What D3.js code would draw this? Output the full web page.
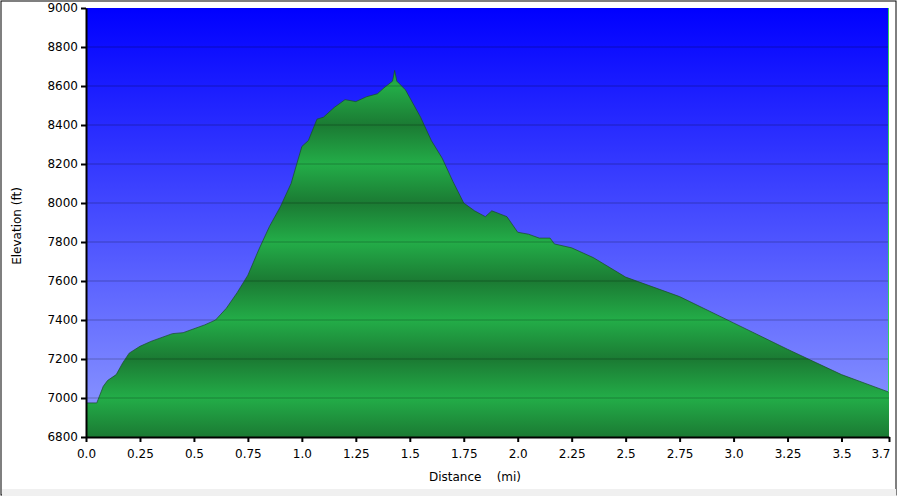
<!DOCTYPE html>
<html><head><meta charset="utf-8">
<script src="https://cdn.jsdelivr.net/npm/d3@7"></script>
<style>body{margin:0;background:#fff;}svg{display:block;font-family:"DejaVu Sans",Verdana,sans-serif;}</style>
</head><body><svg id="c" width="897" height="496"></svg>
<script>
const distance = [0,0.05,0.08,0.1,0.14,0.17,0.2,0.25,0.3,0.4,0.45,0.5,0.55,0.6,0.65,0.7,0.75,0.8,0.85,0.9,0.95,1.0,1.03,1.07,1.1,1.15,1.2,1.25,1.3,1.35,1.38,1.42,1.43,1.44,1.48,1.55,1.6,1.65,1.7,1.75,1.8,1.85,1.88,1.95,2.0,2.05,2.1,2.15,2.17,2.25,2.35,2.5,2.75,3.0,3.25,3.5,3.72];
const elevation = [6975,6975,7060,7090,7120,7180,7230,7265,7290,7330,7335,7355,7375,7400,7460,7540,7630,7760,7880,7980,8100,8290,8320,8430,8440,8490,8530,8520,8545,8560,8590,8625,8680,8625,8580,8440,8320,8230,8110,8000,7960,7930,7960,7930,7850,7840,7820,7820,7790,7770,7720,7620,7520,7385,7250,7120,7030];
const xTicks = [0,0.25,0.5,0.75,1,1.25,1.5,1.75,2,2.25,2.5,2.75,3,3.25,3.5,3.72];
const xTickLabels = ["0.0","0.25","0.5","0.75","1.0","1.25","1.5","1.75","2.0","2.25","2.5","2.75","3.0","3.25","3.5","3.7"];
const yTicks = [6800,7000,7200,7400,7600,7800,8000,8200,8400,8600,8800,9000];

const svg = d3.select("#c");
const L=86,R=889,T=8,B=437;
const x = d3.scaleLinear().domain([0,3.72]).range([L,R]);
const y = d3.scaleLinear().domain([6800,9000]).range([B,T]);
const defs = svg.append("defs");
const bg = defs.append("linearGradient").attr("id","bg").attr("x1",0).attr("y1",0).attr("x2",0).attr("y2",1);
bg.append("stop").attr("offset",0).attr("stop-color","#0000ff");
bg.append("stop").attr("offset",1).attr("stop-color","#909cff");
const gg = defs.append("linearGradient").attr("id","gg").attr("gradientUnits","userSpaceOnUse")
  .attr("x1",0).attr("x2",0).attr("y1",y(9000)).attr("y2",y(6800));
yTicks.slice().reverse().forEach(v=>{
  const off=(y(v)-T)/(B-T);
  gg.append("stop").attr("offset",off).attr("stop-color",((v-6800)/200)%2===0?"#1b7a33":"#23ad48");
});
svg.append("rect").attr("x",1).attr("y",1).attr("width",895).attr("height",494).attr("fill","#fff").attr("stroke","#000");
svg.append("rect").attr("x",2).attr("y",489).attr("width",894).attr("height",7).attr("fill","#f0f0f0");
svg.append("rect").attr("x",L).attr("y",T).attr("width",R-L).attr("height",B-T).attr("fill","url(#bg)");
const area = d3.area().x((d,i)=>x(distance[i])).y0(B).y1(d=>y(d));
svg.append("path").datum(elevation).attr("d",area).attr("fill","url(#gg)");
svg.selectAll(".g").data(yTicks.slice(1,-1)).join("line").attr("x1",L).attr("x2",R)
  .attr("y1",d=>y(d)).attr("y2",d=>y(d)).attr("stroke","#000").attr("stroke-opacity",0.25);
const line = d3.line().x((d,i)=>x(distance[i])).y(d=>y(d));
svg.append("path").datum(elevation).attr("d",line).attr("fill","none").attr("stroke","#1a4a2a").attr("stroke-width",1).attr("stroke-opacity",0.7);
svg.append("line").attr("x1",R-0.5).attr("x2",R-0.5).attr("y1",T).attr("y2",y(elevation[elevation.length-1])).attr("stroke","#30d060");
const xa = svg.append("g").attr("transform",`translate(0,${B})`)
  .call(d3.axisBottom(x).tickValues(xTicks).tickFormat((d,i)=>xTickLabels[i]).tickSize(5).tickSizeOuter(0));
const ya = svg.append("g").attr("transform",`translate(${L},0)`)
  .call(d3.axisLeft(y).tickValues(yTicks).tickSize(5).tickSizeOuter(0).tickFormat(d3.format("d")));
[xa,ya].forEach(a=>{a.selectAll("text").attr("font-size",12).attr("fill","#000").attr("font-family","DejaVu Sans");
  a.selectAll("line,path").attr("stroke","#000").attr("stroke-width",2);});
xa.selectAll("text").attr("dy","1.1em");
xa.selectAll(".tick").filter(d=>d===3.72).select("text").attr("text-anchor","end").attr("dx",1);
svg.append("text").attr("x",475).attr("y",481).attr("text-anchor","middle").attr("font-size",12).attr("xml:space","preserve").text("Distance    (mi)");
svg.append("text").attr("transform","translate(21,226) rotate(-90)").attr("text-anchor","middle").attr("font-size",12).text("Elevation (ft)");
</script></body></html>
